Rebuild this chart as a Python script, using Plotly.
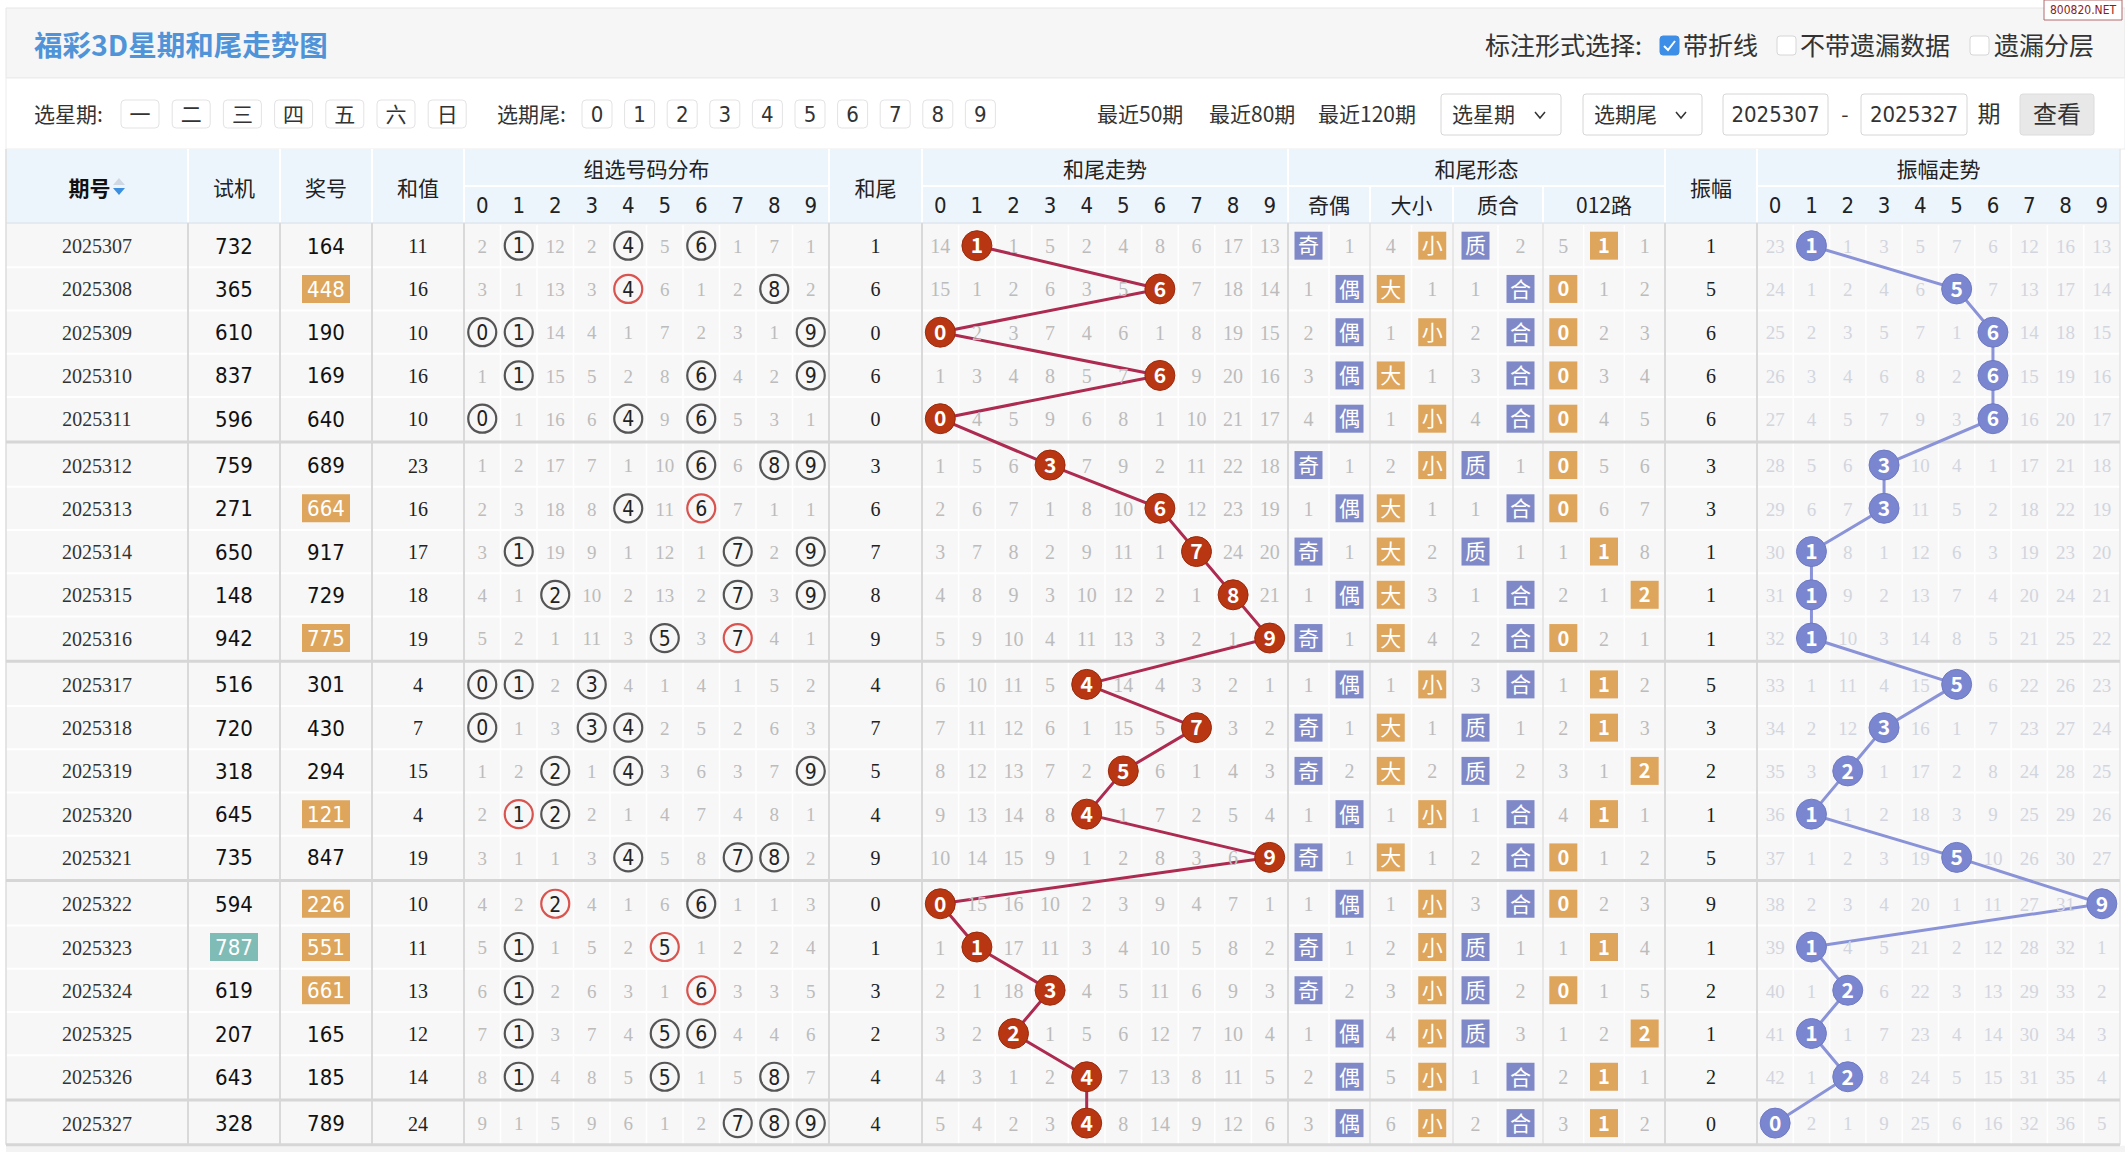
import plotly.graph_objects as go
from collections import defaultdict

W, H = 2125, 1152

# ---------------- data ----------------
periods = ["2025307", "2025308", "2025309", "2025310", "2025311", "2025312", "2025313",
           "2025314", "2025315", "2025316", "2025317", "2025318", "2025319", "2025320",
           "2025321", "2025322", "2025323", "2025324", "2025325", "2025326", "2025327"]
trial_nums = ["732", "365", "610", "837", "596", "759", "271", "650", "148", "942", "516",
              "720", "318", "645", "735", "594", "787", "619", "207", "643", "328"]
draw_nums = ["164", "448", "190", "169", "640", "689", "664", "917", "729", "775", "301",
             "430", "294", "121", "847", "226", "551", "661", "165", "185", "789"]
sum_values = [11, 16, 10, 16, 10, 23, 16, 17, 18, 19, 4, 7, 15, 4, 19, 10, 11, 13, 12, 14, 24]
sum_tails = [1, 6, 0, 6, 0, 3, 6, 7, 8, 9, 4, 7, 5, 4, 9, 0, 1, 3, 2, 4, 4]
amplitudes = [1, 5, 6, 6, 6, 3, 3, 1, 1, 1, 5, 3, 2, 1, 5, 9, 1, 2, 1, 2, 0]

# omission numbers shown in 组选号码分布 (0 where the digit is drawn)
group_miss = [
    [2, 0, 12, 2, 0, 5, 0, 1, 7, 1], [3, 1, 13, 3, 0, 6, 1, 2, 0, 2],
    [0, 0, 14, 4, 1, 7, 2, 3, 1, 0], [1, 0, 15, 5, 2, 8, 0, 4, 2, 0],
    [0, 1, 16, 6, 0, 9, 0, 5, 3, 1], [1, 2, 17, 7, 1, 10, 0, 6, 0, 0],
    [2, 3, 18, 8, 0, 11, 0, 7, 1, 1], [3, 0, 19, 9, 1, 12, 1, 0, 2, 0],
    [4, 1, 0, 10, 2, 13, 2, 0, 3, 0], [5, 2, 1, 11, 3, 0, 3, 0, 4, 1],
    [0, 0, 2, 0, 4, 1, 4, 1, 5, 2], [0, 1, 3, 0, 0, 2, 5, 2, 6, 3],
    [1, 2, 0, 1, 0, 3, 6, 3, 7, 0], [2, 0, 0, 2, 1, 4, 7, 4, 8, 1],
    [3, 1, 1, 3, 0, 5, 8, 0, 0, 2], [4, 2, 0, 4, 1, 6, 0, 1, 1, 3],
    [5, 0, 1, 5, 2, 0, 1, 2, 2, 4], [6, 0, 2, 6, 3, 1, 0, 3, 3, 5],
    [7, 0, 3, 7, 4, 0, 0, 4, 4, 6], [8, 0, 4, 8, 5, 0, 1, 5, 0, 7],
    [9, 1, 5, 9, 6, 1, 2, 0, 0, 0]]

# omission numbers in 和尾走势 (0 where the tail hits)
tail_miss = [
    [14, 0, 1, 5, 2, 4, 8, 6, 17, 13], [15, 1, 2, 6, 3, 5, 0, 7, 18, 14],
    [0, 2, 3, 7, 4, 6, 1, 8, 19, 15], [1, 3, 4, 8, 5, 7, 0, 9, 20, 16],
    [0, 4, 5, 9, 6, 8, 1, 10, 21, 17], [1, 5, 6, 0, 7, 9, 2, 11, 22, 18],
    [2, 6, 7, 1, 8, 10, 0, 12, 23, 19], [3, 7, 8, 2, 9, 11, 1, 0, 24, 20],
    [4, 8, 9, 3, 10, 12, 2, 1, 0, 21], [5, 9, 10, 4, 11, 13, 3, 2, 1, 0],
    [6, 10, 11, 5, 0, 14, 4, 3, 2, 1], [7, 11, 12, 6, 1, 15, 5, 0, 3, 2],
    [8, 12, 13, 7, 2, 0, 6, 1, 4, 3], [9, 13, 14, 8, 0, 1, 7, 2, 5, 4],
    [10, 14, 15, 9, 1, 2, 8, 3, 6, 0], [0, 15, 16, 10, 2, 3, 9, 4, 7, 1],
    [1, 0, 17, 11, 3, 4, 10, 5, 8, 2], [2, 1, 18, 0, 4, 5, 11, 6, 9, 3],
    [3, 2, 0, 1, 5, 6, 12, 7, 10, 4], [4, 3, 1, 2, 0, 7, 13, 8, 11, 5],
    [5, 4, 2, 3, 0, 8, 14, 9, 12, 6]]

# 和尾形态 omission numbers (shown in the non-hit cell)
odd_even_miss = [1, 1, 2, 3, 4, 1, 1, 1, 1, 1, 1, 1, 2, 1, 1, 1, 1, 2, 1, 2, 3]
big_small_miss = [4, 1, 1, 1, 1, 2, 1, 2, 3, 4, 1, 1, 2, 1, 1, 1, 2, 3, 4, 5, 6]
prime_comp_miss = [2, 1, 2, 3, 4, 1, 1, 1, 1, 2, 3, 1, 2, 1, 2, 3, 1, 2, 3, 1, 2]
route_miss = [
    [5, 0, 1], [0, 1, 2], [0, 2, 3], [0, 3, 4], [0, 4, 5], [0, 5, 6], [0, 6, 7],
    [1, 0, 8], [2, 1, 0], [0, 2, 1], [1, 0, 2], [2, 0, 3], [3, 1, 0], [4, 0, 1],
    [0, 1, 2], [0, 2, 3], [1, 0, 4], [0, 1, 5], [1, 2, 0], [2, 0, 1], [3, 0, 2]]

# 振幅走势 omission numbers (0 where amplitude hits)
amp_miss = [
    [23, 0, 1, 3, 5, 7, 6, 12, 16, 13], [24, 1, 2, 4, 6, 0, 7, 13, 17, 14],
    [25, 2, 3, 5, 7, 1, 0, 14, 18, 15], [26, 3, 4, 6, 8, 2, 0, 15, 19, 16],
    [27, 4, 5, 7, 9, 3, 0, 16, 20, 17], [28, 5, 6, 0, 10, 4, 1, 17, 21, 18],
    [29, 6, 7, 0, 11, 5, 2, 18, 22, 19], [30, 0, 8, 1, 12, 6, 3, 19, 23, 20],
    [31, 0, 9, 2, 13, 7, 4, 20, 24, 21], [32, 0, 10, 3, 14, 8, 5, 21, 25, 22],
    [33, 1, 11, 4, 15, 0, 6, 22, 26, 23], [34, 2, 12, 0, 16, 1, 7, 23, 27, 24],
    [35, 3, 0, 1, 17, 2, 8, 24, 28, 25], [36, 0, 1, 2, 18, 3, 9, 25, 29, 26],
    [37, 1, 2, 3, 19, 0, 10, 26, 30, 27], [38, 2, 3, 4, 20, 1, 11, 27, 31, 0],
    [39, 0, 4, 5, 21, 2, 12, 28, 32, 1], [40, 1, 0, 6, 22, 3, 13, 29, 33, 2],
    [41, 0, 1, 7, 23, 4, 14, 30, 34, 3], [42, 1, 0, 8, 24, 5, 15, 31, 35, 4],
    [0, 2, 1, 9, 25, 6, 16, 32, 36, 5]]

digits = [str(d) for d in range(10)]
weekday_buttons = ["一", "二", "三", "四", "五", "六", "日"]
form_groups = ["奇偶", "大小", "质合", "012路"]
primes = {1, 2, 3, 5, 7}

# ---------------- styling ----------------
CN = "Noto Sans CJK SC, sans-serif"
SERIF = "Liberation Serif, DejaVu Serif, serif"
NARROW = "Liberation Sans Narrow, DejaVu Sans Condensed, Liberation Sans, sans-serif"
HEADER_BG = "#edf5fc"
ROW_BG = "#f7f7f7"
MAJOR = "#d9d9d9"
ORANGE = "#dea65d"
PURPLE = "#8089c8"
TEAL = "#80bcb6"
TREND_BALL = "#b93613"
TREND_LINE = "#ad2a50"
AMP_BALL = "#7b86d0"
AMP_LINE = "#8a93d8"
MISS = "#bcbcbc"
AMP_MISS = "#d2d5de"
TEXT_DY = 2.5

shapes = []
TX = defaultdict(lambda: ([], [], []))


def txt(x, y, s, size, color, family, weight="normal", pos="middle center"):
    k = (size, color, family, weight, pos)
    TX[k][0].append(x)
    TX[k][1].append(y + TEXT_DY)
    TX[k][2].append(s)


def rect(x0, y0, x1, y1, fill, lc=None, lw=0):
    shapes.append(dict(type="rect", xref="x", yref="y", x0=x0, y0=y0, x1=x1, y1=y1,
                       fillcolor=fill, line=dict(color=lc or fill, width=lw), layer="below"))


def seg(x0, y0, x1, y1, color, width):
    shapes.append(dict(type="line", xref="x", yref="y", x0=x0, y0=y0, x1=x1, y1=y1,
                       line=dict(color=color, width=width), layer="below"))


def path(p, fill="rgba(0,0,0,0)", lc="rgba(0,0,0,0)", lw=0, layer="below"):
    shapes.append(dict(type="path", xref="x", yref="y", path=p, fillcolor=fill,
                       line=dict(color=lc, width=lw), layer=layer))


def rrect(x0, y0, x1, y1, r, fill, lc, lw=1):
    p = (f"M{x0 + r},{y0} L{x1 - r},{y0} Q{x1},{y0} {x1},{y0 + r} L{x1},{y1 - r} "
         f"Q{x1},{y1} {x1 - r},{y1} L{x0 + r},{y1} Q{x0},{y1} {x0},{y1 - r} "
         f"L{x0},{y0 + r} Q{x0},{y0} {x0 + r},{y0} Z")
    path(p, fill, lc, lw)


# ---------------- layout geometry ----------------
TL, TR = 6, 2120
HDR_TOP, HDR_MID, HDR_BOT = 149, 186, 223
ROW0, ROWH, BLOCK_GAP = 245.7, 43.25, 3.1

C_PER = (TL, 188)
C_TRIAL = (188, 280)
C_DRAW = (280, 372)
C_SUM = (372, 464)
C_GROUP = (464, 829)
C_TAIL = (829, 922)
C_TREND = (922, 1288)
C_FORM = (1288, 1665)
FORM_SUB = [(1288, 1370, 2), (1370, 1453, 2), (1453, 1543, 2), (1543, 1665, 3)]
C_AMP = (1665, 1757)
C_AMPT = (1757, TR)


def mid(c):
    return (c[0] + c[1]) / 2


def sub_x(c, i, n=10):
    w = (c[1] - c[0]) / n
    return c[0] + w * (i + 0.5)


def row_y(i):
    return ROW0 + i * ROWH + (i // 5) * BLOCK_GAP


def form_x(g, k):
    a, b, n = FORM_SUB[g]
    return a + (b - a) / n * (k + 0.5)


n_rows = len(periods)

# ---------------- top panel ----------------
rect(TL, 8, W, 78, "#f6f6f6", "#e6e6e6", 1)
rect(TL, 78, W, HDR_TOP, "#ffffff", "#ececec", 1)
txt(34, 46, "福彩3D星期和尾走势图", 28.5, "#4f93d8", CN, "bold", "middle right")

txt(1485, 46, "标注形式选择:", 25, "#333333", CN, pos="middle right")
rrect(1660, 36, 1679, 55, 3, "#3d8ee6", "#3d8ee6", 1)
path("M1664,46 L1668,50 L1675,41", lc="#ffffff", lw=2)
txt(1683, 46, "带折线", 25, "#333333", CN, pos="middle right")
rrect(1777, 36, 1796, 55, 3, "#ffffff", "#d6d6d6", 1)
txt(1800, 46, "不带遗漏数据", 25, "#333333", CN, pos="middle right")
rrect(1970, 36, 1989, 55, 3, "#ffffff", "#d6d6d6", 1)
txt(1994, 46, "遗漏分层", 25, "#333333", CN, pos="middle right")

rect(2044, 0, 2122, 20, "#ffffff", "#b46a6a", 1)
txt(2083, 8, "800820.NET", 12, "#8b1c1c", NARROW)

FY = 114
txt(34, FY, "选星期:", 21, "#333333", CN, pos="middle right")
for i, s in enumerate(weekday_buttons):
    cx = 140 + 51.2 * i
    rrect(cx - 19, FY - 14, cx + 19, FY + 14, 4, "#ffffff", "#e3e3e3", 1)
    txt(cx, FY, s, 21, "#333333", CN)
txt(497, FY, "选期尾:", 21, "#333333", CN, pos="middle right")
for i, s in enumerate(digits):
    cx = 597 + 42.6 * i
    rrect(cx - 15, FY - 14, cx + 15, FY + 14, 4, "#ffffff", "#e3e3e3", 1)
    txt(cx, FY, s, 22, "#333333", NARROW)

txt(1097, FY, "最近50期", 21, "#333333", CN, pos="middle right")
txt(1209, FY, "最近80期", 21, "#333333", CN, pos="middle right")
txt(1318, FY, "最近120期", 21, "#333333", CN, pos="middle right")
for (x0, x1, label) in [(1441, 1561, "选星期"), (1583, 1702, "选期尾")]:
    rrect(x0, 94, x1, 135, 3, "#ffffff", "#d6d6d6", 1)
    txt(x0 + 11, FY, label, 21, "#333333", CN, pos="middle right")
    cx = x1 - 21
    path(f"M{cx - 5},{FY - 2} L{cx},{FY + 4} L{cx + 5},{FY - 2}", lc="#333333", lw=1.5)
rrect(1723, 94, 1828, 135, 3, "#ffffff", "#d6d6d6", 1)
txt(1775.5, FY, periods[0], 22, "#333333", NARROW)
txt(1845, FY, "-", 21, "#333333", CN)
rrect(1861, 94, 1967, 135, 3, "#ffffff", "#d6d6d6", 1)
txt(1914, FY, periods[-1], 22, "#333333", NARROW)
txt(1989, FY, "期", 23, "#333333", CN)
rrect(2020, 94, 2094, 135, 3, "#e8e8e8", "#dcdcdc", 1)
txt(2057, FY, "查看", 24, "#333333", CN)

# ---------------- table backgrounds ----------------
rect(TL, HDR_TOP, TR, HDR_BOT, HEADER_BG)
table_bottom = row_y(n_rows - 1) + ROWH / 2
rect(TL, HDR_BOT, TR, table_bottom, ROW_BG)
rect(TL, table_bottom + 1, W, H, "#f3f3f3")

# inner white grid lines
for c in [C_GROUP, C_TREND, C_AMPT]:
    w = (c[1] - c[0]) / 10
    for k in range(1, 10):
        seg(c[0] + w * k, HDR_BOT + 2, c[0] + w * k, table_bottom, "#ffffff", 1.5)
for a, b, n in FORM_SUB:
    for k in range(1, n):
        xk = a + (b - a) / n * k
        seg(xk, HDR_BOT + 2, xk, table_bottom, "#ffffff", 1.5)
for i in range(n_rows - 1):
    if (i + 1) % 5 != 0:
        yb = (row_y(i) + row_y(i + 1)) / 2
        seg(TL, yb, TR, yb, "#ffffff", 2)

# header lines
for c in [C_GROUP, C_TREND, C_FORM, C_AMPT]:
    seg(c[0], HDR_MID, c[1], HDR_MID, "#ffffff", 2)
for xb in [188, 280, 372, 464, 829, 922, 1288, 1665, 1757, 1370, 1453, 1543]:
    y0 = HDR_MID if xb in (1370, 1453, 1543) else HDR_TOP
    seg(xb, y0, xb, HDR_BOT, "#ffffff", 2)
seg(TL, HDR_BOT, TR, HDR_BOT, "#dfe6ee", 1.5)

# data column separators
for xb in [188, 280, 372, 464, 829, 922, 1288, 1665, 1757]:
    seg(xb, HDR_BOT, xb, table_bottom, MAJOR, 2)
for xb in [1370, 1453, 1543]:
    seg(xb, HDR_BOT, xb, table_bottom, "#e2e2e2", 1.5)
seg(TL, HDR_TOP, TL, table_bottom, "#dddddd", 1.5)
seg(TR, HDR_TOP, TR, table_bottom, "#e6e6e6", 1.5)
for b in range(1, (n_rows + 4) // 5):
    yb = (row_y(5 * b - 1) + row_y(5 * b)) / 2
    seg(TL, yb, TR, yb, "#d6d6d6", 3)
seg(TL, table_bottom, TR, table_bottom, "#d6d6d6", 3)

# ---------------- header text ----------------
HY, HY1, HY2 = 188, 169, 205
txt(89.5, HY, "期号", 21, "#111111", CN, "bold")
path("M113,185 L119,178 L125,185 Z", fill="#cfd8e2")
path("M113,188 L125,188 L119,195 Z", fill="#3b8ee0")
for c, s in [(C_TRIAL, "试机"), (C_DRAW, "奖号"), (C_SUM, "和值"), (C_TAIL, "和尾"), (C_AMP, "振幅")]:
    txt(mid(c), HY, s, 21, "#222222", CN)
for c, s in [(C_GROUP, "组选号码分布"), (C_TREND, "和尾走势"), (C_FORM, "和尾形态"), (C_AMPT, "振幅走势")]:
    txt(mid(c), HY1, s, 21, "#222222", CN)
for c in [C_GROUP, C_TREND, C_AMPT]:
    for i, s in enumerate(digits):
        txt(sub_x(c, i), HY2, s, 22, "#222222", NARROW)
for g, s in enumerate(form_groups):
    a, b, n = FORM_SUB[g]
    txt((a + b) / 2, HY2, s, 21, "#222222", CN)

# ---------------- rows ----------------
ring_x, ring_y, ring_c = [], [], []
trend_x, trend_y = [], []
amp_x, amp_y = [], []

for r in range(n_rows):
    y = row_y(r)
    txt(mid(C_PER), y, periods[r], 20, "#333333", SERIF)

    tn = trial_nums[r]
    if len(set(tn)) < 3:
        rect(mid(C_TRIAL) - 24, y - 14, mid(C_TRIAL) + 24, y + 14, TEAL)
        txt(mid(C_TRIAL), y, tn, 22, "#ffffff", NARROW)
    else:
        txt(mid(C_TRIAL), y, tn, 22, "#111111", NARROW)
    dn = draw_nums[r]
    if len(set(dn)) < 3:
        rect(mid(C_DRAW) - 24, y - 14, mid(C_DRAW) + 24, y + 14, ORANGE)
        txt(mid(C_DRAW), y, dn, 22, "#ffffff", NARROW)
    else:
        txt(mid(C_DRAW), y, dn, 22, "#111111", NARROW)
    txt(mid(C_SUM), y, str(sum_values[r]), 20, "#222222", SERIF)

    for d in range(10):
        x = sub_x(C_GROUP, d)
        cnt = dn.count(str(d))
        if cnt > 0:
            ring_x.append(x)
            ring_y.append(y)
            ring_c.append("#d9534f" if cnt >= 2 else "#555555")
            txt(x, y, str(d), 21, "#222222", NARROW)
        else:
            txt(x, y, str(group_miss[r][d]), 19, MISS, SERIF)

    t = sum_tails[r]
    txt(mid(C_TAIL), y, str(t), 20, "#222222", SERIF)
    for d in range(10):
        x = sub_x(C_TREND, d)
        if d == t:
            trend_x.append(x)
            trend_y.append(y)
            txt(x, y, str(d), 21, "#ffffff", CN, "bold")
        else:
            txt(x, y, str(tail_miss[r][d]), 20, MISS, SERIF)

    # 和尾形态
    flags = [t % 2 == 1, t >= 5, t in primes]
    labels = [("奇", "偶"), ("大", "小"), ("质", "合")]
    misses = [odd_even_miss[r], big_small_miss[r], prime_comp_miss[r]]
    colors = [PURPLE, ORANGE, PURPLE]
    for g in range(3):
        k_hit = 0 if flags[g] else 1
        xh = form_x(g, k_hit)
        rect(xh - 14, y - 14, xh + 14, y + 14, colors[g])
        txt(xh, y, labels[g][k_hit], 21, "#ffffff", CN)
        txt(form_x(g, 1 - k_hit), y, str(misses[g]), 20, MISS, SERIF)
    route = t % 3
    for k in range(3):
        xk = form_x(3, k)
        if k == route:
            rect(xk - 14, y - 14, xk + 14, y + 14, ORANGE)
            txt(xk, y, str(k), 20, "#ffffff", CN, "bold")
        else:
            txt(xk, y, str(route_miss[r][k]), 20, MISS, SERIF)

    a = amplitudes[r]
    txt(mid(C_AMP), y, str(a), 20, "#222222", SERIF)
    for d in range(10):
        x = sub_x(C_AMPT, d)
        if d == a:
            amp_x.append(x)
            amp_y.append(y)
            txt(x, y, str(d), 21, "#ffffff", CN, "bold")
        else:
            txt(x, y, str(amp_miss[r][d]), 19, AMP_MISS, SERIF)

# ---------------- traces ----------------
fig = go.Figure()
fig.add_trace(go.Scatter(x=trend_x, y=trend_y, mode="lines",
                         line=dict(color=TREND_LINE, width=3), hoverinfo="skip"))
fig.add_trace(go.Scatter(x=amp_x, y=amp_y, mode="lines",
                         line=dict(color=AMP_LINE, width=3), hoverinfo="skip"))
fig.add_trace(go.Scatter(x=ring_x, y=ring_y, mode="markers", hoverinfo="skip",
                         marker=dict(size=28, color="rgba(0,0,0,0)",
                                     line=dict(color=ring_c, width=2.2))))
fig.add_trace(go.Scatter(x=trend_x, y=trend_y, mode="markers", hoverinfo="skip",
                         marker=dict(size=30, color=TREND_BALL,
                                     line=dict(color="#9a2a0c", width=1))))
fig.add_trace(go.Scatter(x=amp_x, y=amp_y, mode="markers", hoverinfo="skip",
                         marker=dict(size=30, color=AMP_BALL,
                                     line=dict(color="#6f7ac4", width=1))))
for (size, color, family, weight, pos), (xs, ys, ts) in TX.items():
    fig.add_trace(go.Scatter(x=xs, y=ys, text=ts, mode="text", textposition=pos,
                             hoverinfo="skip",
                             textfont=dict(size=size, color=color, family=family, weight=weight)))

fig.update_layout(
    width=W, height=H, margin=dict(l=0, r=0, t=0, b=0),
    paper_bgcolor="#ffffff", plot_bgcolor="#ffffff", showlegend=False,
    shapes=shapes,
    xaxis=dict(range=[0, W], visible=False, fixedrange=True),
    yaxis=dict(range=[H, 0], visible=False, fixedrange=True),
)
fig.write_html("out.html", config={"displayModeBar": False, "staticPlot": True},
               post_script="document.body.style.margin='0';document.body.style.overflow='hidden';")
